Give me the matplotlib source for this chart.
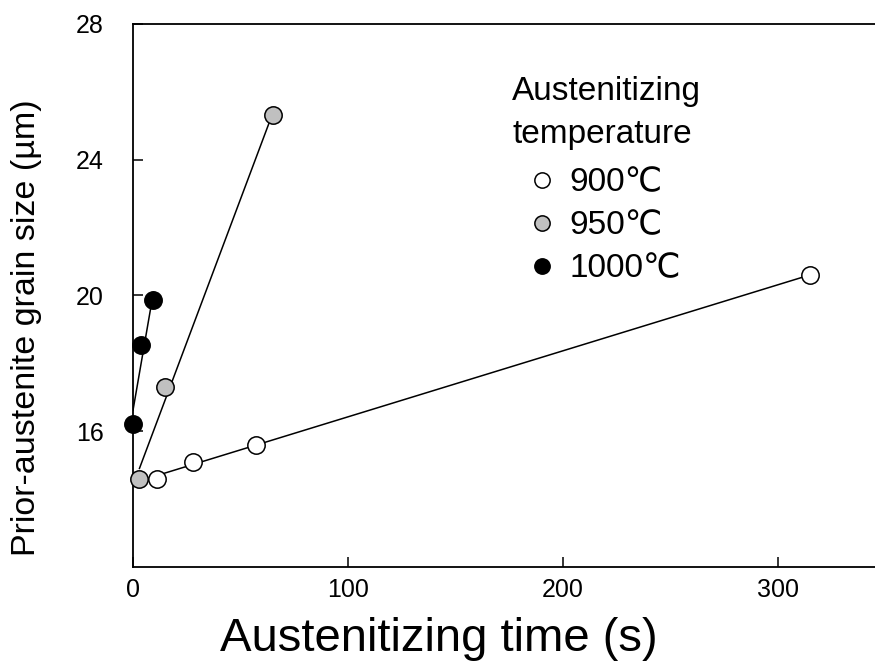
import numpy as np
import matplotlib.pyplot as plt
from matplotlib.lines import Line2D

plt.rcParams['font.family'] = ['Liberation Sans', 'DejaVu Sans']

# austenitizing time (s) and prior-austenite grain size (um)
t_900 = [11, 28, 57, 315]
d_900 = [14.6, 15.1, 15.6, 20.6]
t_950 = [3, 15, 65]
d_950 = [14.6, 17.3, 25.3]
t_1000 = [0, 3.5, 9.5]
d_1000 = [16.2, 18.55, 19.85]

labels = ['900℃', '950℃', '1000℃']
faces = ['white', '#c0c0c0', 'black']

fig = plt.figure(figsize=(8.75, 6.63), dpi=100)
ax = fig.add_axes([0.152, 0.145, 0.848, 0.819])

series = [(t_900, d_900), (t_950, d_950), (t_1000, d_1000)]
for (t, d), fc in zip(series, faces):
    # straight-line fit drawn over the data range
    k, b = np.polyfit(t, d, 1)
    xs = np.array([min(t), max(t)])
    ax.plot(xs, k * xs + b, color='black', lw=1.1, zorder=2)
    ax.plot(t, d, 'o', ms=12.5, mfc=fc, mec='black', mew=1.1, zorder=3,
            clip_on=False)

ax.set_xlim(0, 345)
ax.set_ylim(12, 28)
ax.set_xticks([0, 100, 200, 300])
ax.set_yticks([16, 20, 24, 28])
ax.tick_params(direction='in', length=7, width=1.1, labelsize=18)
ax.tick_params(axis='x', pad=8)
ax.tick_params(axis='y', pad=21)
ax.spines['right'].set_visible(False)
for s in ['left', 'bottom', 'top']:
    ax.spines[s].set_linewidth(1.3)

ax.set_xlabel('Austenitizing time (s)', fontsize=34)
ax.xaxis.set_label_coords(0.412, -0.092)
ax.set_ylabel('Prior-austenite grain size (µm)', fontsize=24.5)
ax.yaxis.set_label_coords(-0.123, 0.44)

ax.text(0.511, 0.876, 'Austenitizing', transform=ax.transAxes,
        fontsize=24, ha='left', va='center')
ax.text(0.511, 0.797, 'temperature', transform=ax.transAxes,
        fontsize=24, ha='left', va='center')

handles = [Line2D([], [], ls='none', marker='o', ms=11, mfc=fc, mec='black',
                  mew=1.1) for fc in faces]
leg = ax.legend(handles, labels, loc='upper left',
                bbox_to_anchor=(0.533, 0.736), frameon=False, fontsize=24,
                handlelength=0.8, handletextpad=0.44, labelspacing=0.36,
                borderpad=0, borderaxespad=0)

fig.savefig('out.png', dpi=100)
